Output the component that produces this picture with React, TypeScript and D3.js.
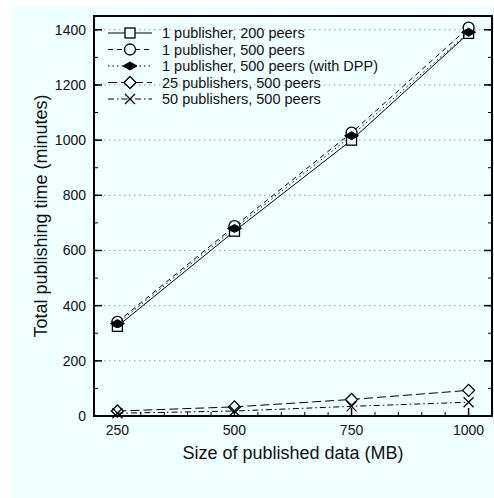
import React from "react";
import * as d3 from "d3";

const sizes = [250, 500, 750, 1000];
const seriesNames = [
  "1 publisher, 200 peers",
  "1 publisher, 500 peers",
  "1 publisher, 500 peers (with DPP)",
  "25 publishers, 500 peers",
  "50 publishers, 500 peers",
];
const pub1peers200 = [325, 670, 1000, 1387];
const pub1peers500 = [341, 688, 1027, 1408];
const pub1peers500dpp = [335, 680, 1016, 1391];
const pub25peers500 = [18, 33, 60, 93];
const pub50peers500 = [10, 18, 35, 50];
const xTicks = [250, 500, 750, 1000];
const yTicks = [0, 200, 400, 600, 800, 1000, 1200, 1400];

const W = 494, H = 498;
const L = 94, R = 492, T = 16, B = 416;
const FONT = "'Liberation Sans', Arial, Helvetica, sans-serif";

type Marker = "square" | "circle" | "fdiamond" | "diamond" | "x";
const styles: { dash: string; marker: Marker }[] = [
  { dash: "none", marker: "square" },
  { dash: "5,4", marker: "circle" },
  { dash: "1.5,3", marker: "fdiamond" },
  { dash: "9,4", marker: "diamond" },
  { dash: "6,3,1.5,3", marker: "x" },
];
const allSeries = [pub1peers200, pub1peers500, pub1peers500dpp, pub25peers500, pub50peers500];

function MarkerShape({ type, x, y }: { type: Marker; x: number; y: number }) {
  const bg = "#f0ffff";
  if (type === "square")
    return <rect x={x - 5} y={y - 5} width={10} height={10} fill={bg} stroke="#000" strokeWidth={1.3} />;
  if (type === "circle")
    return <circle cx={x} cy={y} r={5.5} fill={bg} stroke="#000" strokeWidth={1.3} />;
  if (type === "fdiamond")
    return <path d={`M${x - 7},${y} L${x},${y - 4} L${x + 7},${y} L${x},${y + 4} Z`} fill="#000" stroke="#000" />;
  if (type === "diamond")
    return <path d={`M${x - 6},${y} L${x},${y - 6} L${x + 6},${y} L${x},${y + 6} Z`} fill={bg} stroke="#000" strokeWidth={1.3} />;
  return (
    <path d={`M${x - 5},${y - 5} L${x + 5},${y + 5} M${x - 5},${y + 5} L${x + 5},${y - 5}`} stroke="#000" strokeWidth={1.2} />
  );
}

export default function App() {
  const x = d3.scaleLinear().domain([200, 1050]).range([L, R]);
  const y = d3.scaleLinear().domain([0, 1450]).range([B, T]);
  const line = d3
    .line<number>()
    .x((_, i) => x(sizes[i]))
    .y((d) => y(d));
  const xMinor = d3.range(200, 1051, 50);
  const yMinor = d3.range(0, 1401, 100);

  return (
    <svg width={W} height={H} style={{ position: "absolute", left: 0, top: 0 }} fontFamily={FONT}>
      <rect x={12} y={6} width={W - 12} height={H - 6} fill="#f0ffff" />
      {yTicks.filter((t) => t > 0).map((t) => (
        <line key={"g" + t} x1={L} x2={R} y1={y(t)} y2={y(t)} stroke="#999" strokeWidth={1} strokeDasharray="1.5,3.5" />
      ))}
      {xMinor.map((t) => (
        <line key={"xm" + t} x1={x(t)} x2={x(t)} y1={B} y2={B - 4} stroke="#000" />
      ))}
      {yMinor.map((t) => (
        <g key={"ym" + t}>
          <line x1={L} x2={L + 4} y1={y(t)} y2={y(t)} stroke="#000" />
          <line x1={R} x2={R - 4} y1={y(t)} y2={y(t)} stroke="#000" />
        </g>
      ))}
      {xTicks.map((t) => (
        <g key={"xt" + t}>
          <line x1={x(t)} x2={x(t)} y1={B} y2={B - 8} stroke="#000" strokeWidth={1.5} />
          <text x={x(t)} y={435} textAnchor="middle" fontSize={14} fill="#111">{t}</text>
        </g>
      ))}
      {yTicks.map((t) => (
        <g key={"yt" + t}>
          <line x1={L} x2={L + 8} y1={y(t)} y2={y(t)} stroke="#000" strokeWidth={1.5} />
          <line x1={R} x2={R - 8} y1={y(t)} y2={y(t)} stroke="#000" strokeWidth={1.5} />
          <text x={86} y={y(t) + 5} textAnchor="end" fontSize={14} fill="#111">{t}</text>
        </g>
      ))}
      {allSeries.map((s, i) => (
        <g key={"s" + i}>
          <path d={line(s) || ""} fill="none" stroke="#000" strokeWidth={1} strokeDasharray={styles[i].dash} />
          {s.map((v, j) => (
            <MarkerShape key={j} type={styles[i].marker} x={x(sizes[j])} y={y(v)} />
          ))}
        </g>
      ))}
      {seriesNames.map((n, i) => {
        const ly = 33 + i * 16.5;
        return (
          <g key={"l" + i}>
            <line x1={108} x2={152} y1={ly} y2={ly} stroke="#000" strokeWidth={1} strokeDasharray={styles[i].dash} />
            <MarkerShape type={styles[i].marker} x={130} y={ly} />
            <text x={162} y={ly + 5} fontSize={14.5} fill="#111">{n}</text>
          </g>
        );
      })}
      <rect x={L} y={T} width={R - L} height={B - T} fill="none" stroke="#000" strokeWidth={2} />
      <text x={(L + R) / 2} y={459} textAnchor="middle" fontSize={18} fill="#111">Size of published data (MB)</text>
      <text transform={`translate(47,${(T + B) / 2}) rotate(-90)`} textAnchor="middle" fontSize={18} fill="#111">
        Total publishing time (minutes)
      </text>
    </svg>
  );
}
